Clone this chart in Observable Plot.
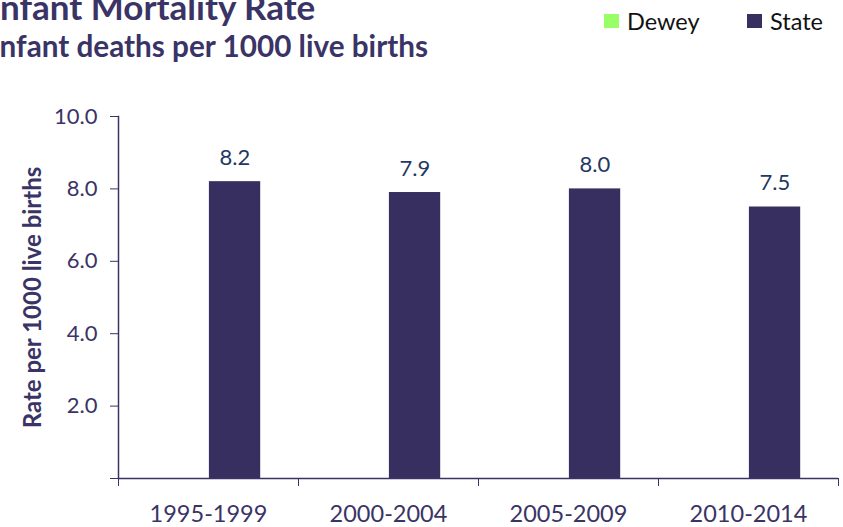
<!DOCTYPE html>
<html>
<head>
<meta charset="utf-8">
<script src="https://cdn.jsdelivr.net/npm/d3@7"></script>
<script src="https://cdn.jsdelivr.net/npm/@observablehq/plot@0.6"></script>
<style>
  html, body { margin: 0; padding: 0; background: #fff; }
  #wrap { width: 843px; height: 527px; overflow: hidden; position: relative; font-family: Lato, "Open Sans", sans-serif; }
  #header { position: relative; height: 75px; overflow: hidden; }
  #title { position: absolute; left: -10px; top: -11px; font-size: 35px; line-height: 1; font-weight: bold; color: #3A3466; white-space: nowrap; }
  #subtitle { position: absolute; left: -9px; top: 31px; font-size: 29.7px; line-height: 1; font-weight: bold; color: #3A3466; white-space: nowrap; }
  .leg { position: absolute; top: 7px; font-size: 23.5px; color: #111; display: flex; align-items: center; white-space: nowrap; }
  .sw { width: 15px; height: 14px; margin-right: 8px; }
</style>
</head>
<body>
<div id="wrap">
  <div id="header">
    <div id="title">Infant Mortality Rate</div>
    <div id="subtitle">Infant deaths per 1000 live births</div>
    <div class="leg" id="leg0" style="left:604px"></div>
    <div class="leg" id="leg1" style="left:747px"></div>
  </div>
  <div id="chart"></div>
</div>
<script>
const periods = ["1995-1999", "2000-2004", "2005-2009", "2010-2014"];
const seriesNames = ["Dewey", "State"];
const seriesColors = ["#99FF66", "#372F5F"];
const deweyValues = [null, null, null, null];
const stateValues = [8.2, 7.9, 8.0, 7.5];
const yTicks = [0, 2, 4, 6, 8, 10];

const deweyData = periods.map((p, i) => ({period: p, series: "Dewey", value: deweyValues[i]})).filter(d => d.value != null);
const stateData = periods.map((p, i) => ({period: p, series: "State", value: stateValues[i]}));

// legend
seriesNames.forEach((s, i) => {
  const el = document.getElementById("leg" + i);
  el.innerHTML = `<span class="sw" style="background:${seriesColors[i]}"></span><span>${s}</span>`;
});

const W = 843, H = 452;
const mL = 118, mR = 5, mT = 41, mB = 49;
const band = (W - mL - mR) / periods.length;
const axisColor = "#3A3466";

const chart = Plot.plot({
  width: W,
  height: H,
  marginLeft: mL,
  marginRight: mR,
  marginTop: mT,
  marginBottom: mB,
  style: {fontFamily: "Lato, 'Open Sans', sans-serif", background: "#fff", overflow: "visible"},
  x: {domain: periods, padding: 0, axis: null},
  y: {domain: [0, 10], axis: null},
  color: {domain: seriesNames, range: seriesColors},
  marks: [
    Plot.barY(deweyData, {x: "period", y: "value", fill: "series", insetLeft: band * 0.205, insetRight: band * 0.51}),
    Plot.barY(stateData, {x: "period", y: "value", fill: "series", insetLeft: band * 0.505, insetRight: band * 0.21}),
    Plot.text(stateData, {x: "period", y: "value", text: d => d.value.toFixed(1), dx: band * 0.147, dy: -24, fill: "#1F3864", fontSize: 22}),
    // y axis
    Plot.axisY({ticks: yTicks, tickSize: 8, tickPadding: 13, tickFormat: d => d === 0 ? "" : d.toFixed(1), fontSize: 22, color: axisColor, label: null, stroke: axisColor}),
    Plot.frame({anchor: "left", stroke: axisColor, strokeWidth: 1.5}),
    Plot.ruleY([0], {stroke: axisColor, strokeWidth: 1.5}),
    // x axis labels
    Plot.axisX({tickSize: 0, tickPadding: 27, fontSize: 23.5, color: axisColor, label: null}),
    // boundary ticks
    Plot.axisX({tickSize: 8, tickFormat: () => "", dx: -band / 2, stroke: axisColor, label: null}),
    Plot.axisX({ticks: [periods[periods.length - 1]], tickSize: 8, tickFormat: () => "", dx: band / 2, stroke: axisColor, label: null}),
    // y title
    Plot.text(["Rate per 1000 live births"], {frameAnchor: "left", textAnchor: "middle", rotate: -90, dx: -85, fontSize: 24, fontWeight: "bold", fill: axisColor})
  ]
});
document.getElementById("chart").appendChild(chart);
</script>
</body>
</html>
